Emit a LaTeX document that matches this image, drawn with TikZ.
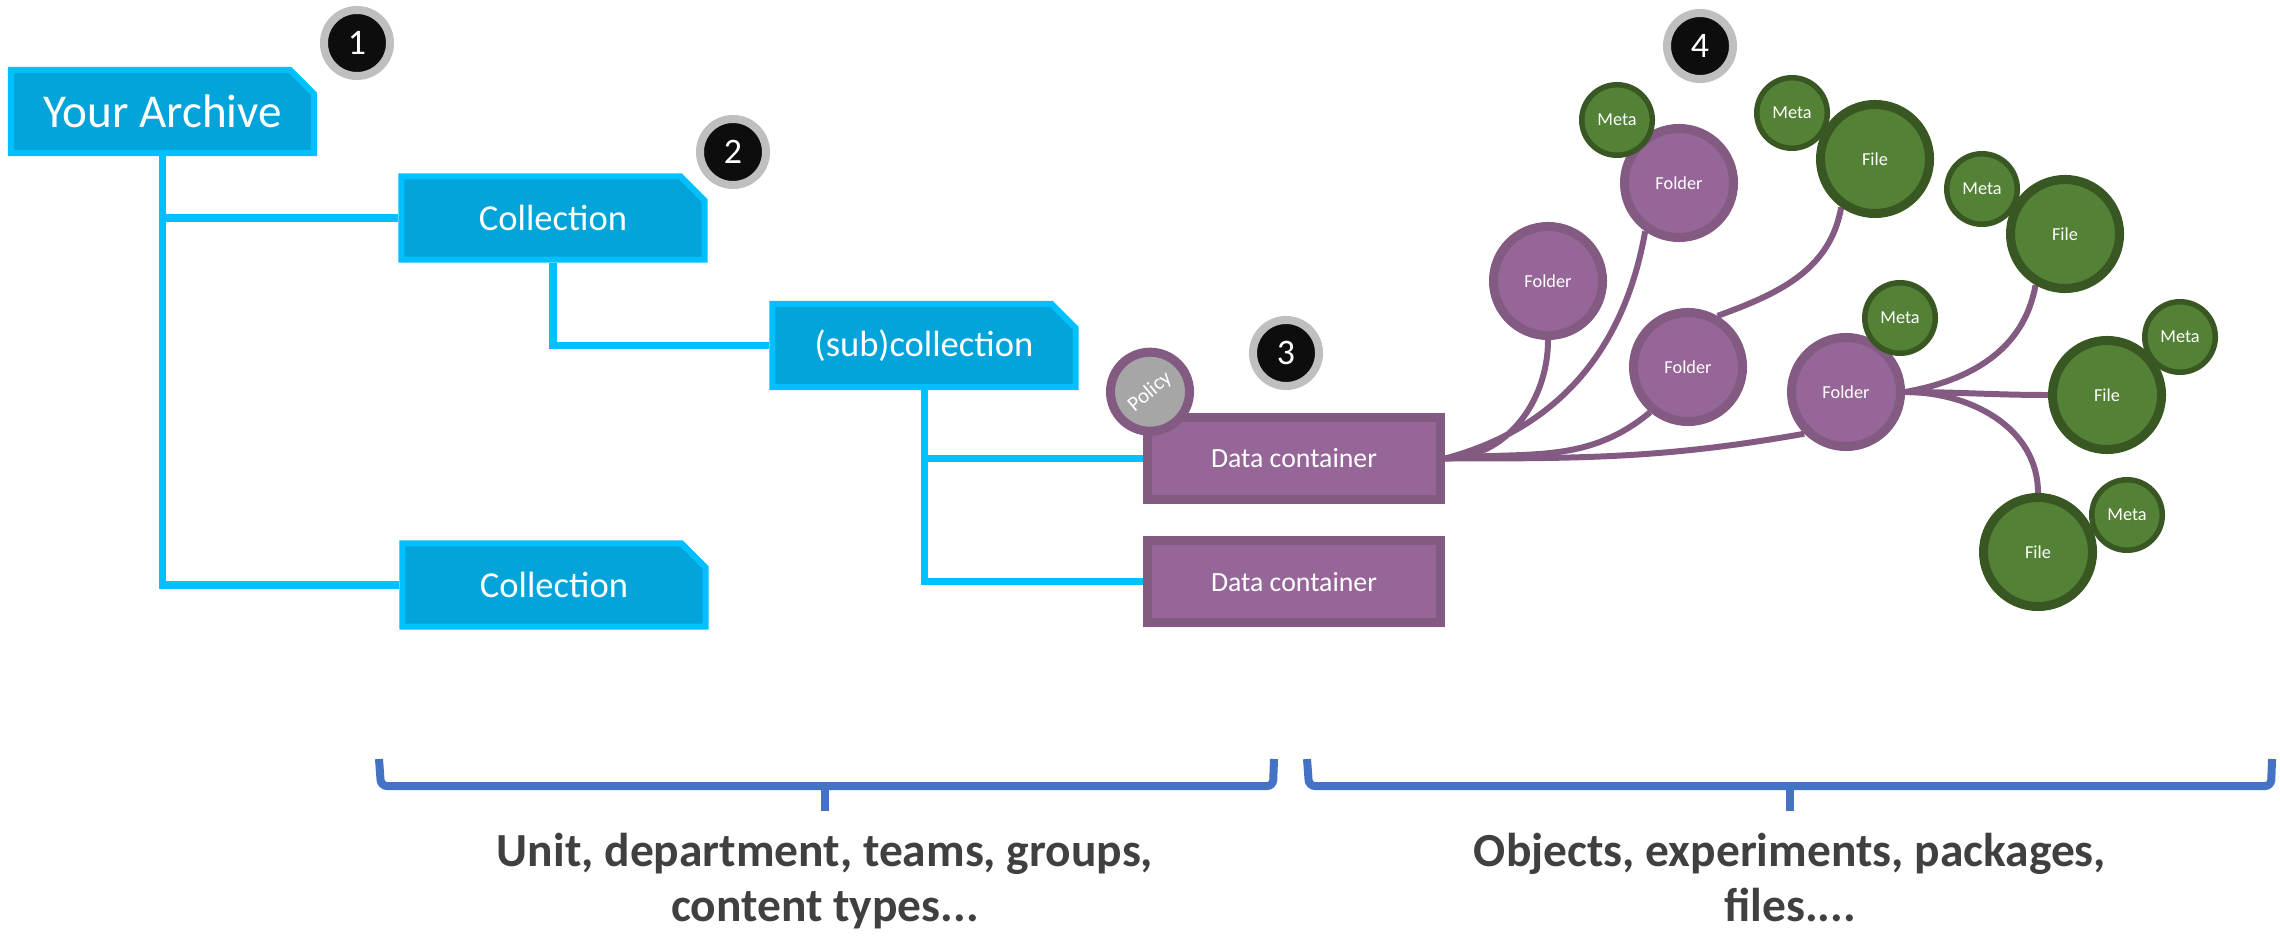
\documentclass[tikz,border=0pt]{standalone}
\usepackage{fontspec}
\setmainfont{Carlito}
\usepackage{graphicx}
\usetikzlibrary{shapes,positioning,backgrounds}

\definecolor{cyanline}{RGB}{0,192,255}
\definecolor{cyanfill}{RGB}{3,164,217}
\definecolor{plumfill}{RGB}{151,102,152}
\definecolor{plumline}{RGB}{130,90,130}
\definecolor{leaffill}{RGB}{83,129,53}
\definecolor{leafline}{RGB}{56,87,35}
\definecolor{badgering}{RGB}{191,191,191}
\definecolor{badgefill}{RGB}{13,13,13}
\definecolor{policyfill}{RGB}{166,166,166}
\definecolor{bracecol}{RGB}{68,114,196}
\definecolor{notecol}{RGB}{64,64,64}

\tikzstyle{colblock} = [chamfered rectangle, chamfered rectangle corners=north east,
    chamfered rectangle xsep=0.12cm, chamfered rectangle ysep=0.12cm,
    draw=cyanline, fill=cyanfill, line width=1.7pt, text=white, inner sep=0pt,
    minimum width=3.03cm, minimum height=0.83cm, font=\fontsize{10.4}{12}\selectfont]
\tikzstyle{datablock} = [rectangle, draw=plumline, fill=plumfill, line width=2.56pt,
    text=white, minimum width=2.93cm, minimum height=0.82cm,
    font=\fontsize{7.9}{9}\selectfont]
\tikzstyle{folder} = [circle, draw=plumline, fill=plumfill, line width=2.56pt, text=white,
    minimum size=1.09cm, inner sep=0pt, font=\fontsize{5.2}{6}\selectfont]
\tikzstyle{file} = [circle, draw=leafline, fill=leaffill, line width=2.56pt, text=white,
    minimum size=1.09cm, inner sep=0pt, font=\fontsize{5.2}{6}\selectfont]
\tikzstyle{meta} = [circle, draw=leafline, fill=leaffill, line width=1.56pt, text=white,
    minimum size=0.705cm, inner sep=0pt, font=\fontsize{5.2}{6}\selectfont]
\tikzstyle{badge} = [circle, draw=badgering, fill=badgefill, line width=2.28pt, text=white,
    minimum size=0.66cm, inner sep=0pt, font=\fontsize{10.2}{12}\selectfont]
\tikzstyle{policy} = [circle, draw=plumline, fill=policyfill, line width=2.56pt, text=white,
    minimum size=0.79cm, inner sep=0pt, font=\fontsize{6}{7}\selectfont]
\tikzstyle{tree} = [draw=cyanline, line width=2pt]
\tikzstyle{branch} = [draw=plumline, line width=1.7pt]
\tikzstyle{brace} = [draw=bracecol, line width=2.28pt, rounded corners=0.06cm]
\tikzstyle{note} = [align=center, text=notecol, inner sep=0pt, anchor=north,
    font=\bfseries\fontsize{13.5}{15.9}\selectfont]

\begin{document}
\begin{tikzpicture}[x=0.01cm, y=0.01cm, node distance=1.23cm]
			\useasboundingbox (0,0) rectangle (2280,-937);
			% Place nodes
			\node [colblock, font=\fontsize{13.4}{16}\selectfont] (arch) at (162.5,-111.5) {Your Archive};
			\node [colblock] (col1) at (553,-218) {Collection};
			\node [colblock] (sub) at (924,-345.5) {(sub)collection};
			\node [colblock] (col2) at (554,-585) {Collection};
			\node [datablock] (dc1) at (1294,-458.5) {Data container};
			\node [datablock, below of=dc1] (dc2) {Data container};
			\node [policy] (pol) at (1150,-391.7) {\rotatebox{40}{Policy}};
			\node [badge] (b1) at (357,-43) {1};
			\node [badge] (b2) at (733,-152) {2};
			\node [badge] (b3) at (1286,-353) {3};
			\node [badge] (b4) at (1700,-46) {4};
			\node [folder] (fA) at (1679,-183) {Folder};
			\node [folder] (fB) at (1548,-281) {Folder};
			\node [folder] (fC) at (1688,-367) {Folder};
			\node [folder] (fD) at (1846,-392) {Folder};
			\node [meta] (mA) at (1617,-120) {Meta};
			\node [meta] (mD) at (1900,-318) {Meta};
			\node [meta] (mB) at (1792,-113) {Meta};
			\node [meta] (mC) at (1982,-189) {Meta};
			\node [meta] (mE) at (2180,-337) {Meta};
			\node [meta] (mF) at (2127,-515) {Meta};
			\node [file] (fiA) at (1875,-159) {File};
			\node [file] (fiB) at (2065,-234) {File};
			\node [file] (fiC) at (2107,-395) {File};
			\node [file] (fiD) at (2038,-552) {File};
			\node [note] (lower) at (825,-832) {Unit, department, teams, groups,\\content types...};
			\node [note] (upper) at (1790,-832) {Objects, experiments, packages,\\files....};
			% Draw edges
			\begin{pgfonlayer}{background}
			\path [tree] (arch.south) |- (col1.west);
			\path [tree] (arch.south) |- (col2.west);
			\path [tree] (col1.south) |- (sub.west);
			\path [tree] (sub.south) |- (dc1.west);
			\path [tree] (sub.south) |- (dc2.west);
			\path [branch] (dc1.east) to[out=0, in=-90] (fB.south);
			\path [branch] (dc1.east) to[out=15, in=-100] (fA.-125);
			\path [branch] (dc1.east) to[out=5, in=-140] (fC.-130);
			\path [branch] (dc1.east) to[out=0, in=190] (fD.-135);
			\path [branch] (fC.60) to[out=20, in=-100] (fiA.-125);
			\path [branch] (fD.east) to[out=10, in=-100] (fiB.-120);
			\path [branch] (fD.east) to[out=0, in=180] (fiC.west);
			\path [branch] (fD.east) to[out=0, in=90] (fiD.north);
			\end{pgfonlayer}
			% Braces
			\path [brace] (379,-759) -- (381,-786) -- (1273,-786) -- (1274,-759);
			\path [brace] (825,-786) -- (825,-811);
			\path [brace] (1307,-759) -- (1309,-786) -- (2271,-786) -- (2272,-759);
			\path [brace] (1790,-786) -- (1790,-811);
	\end{tikzpicture}
\end{document}
